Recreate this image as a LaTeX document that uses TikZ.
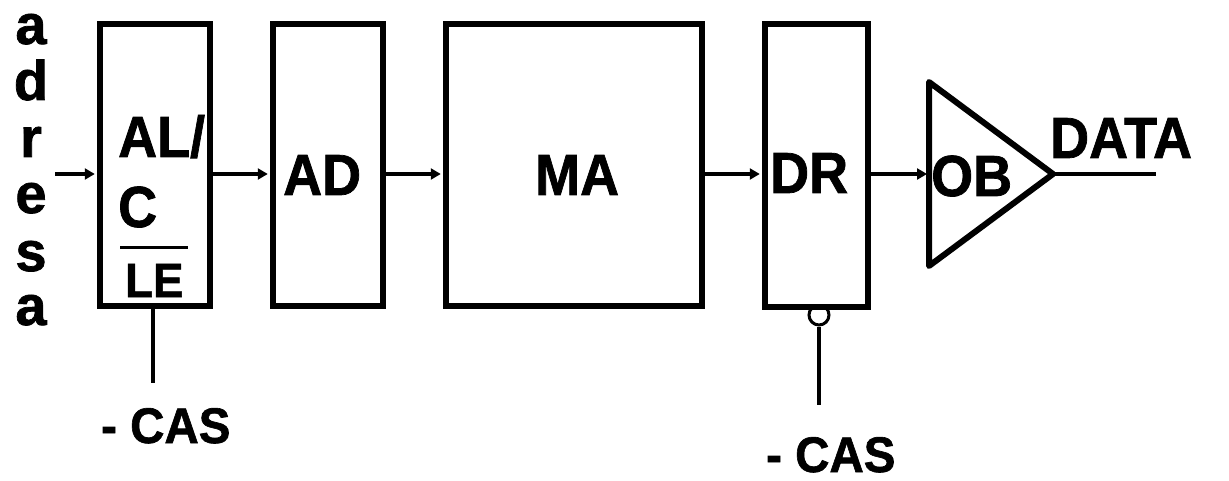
\documentclass[tikz,border=0pt]{standalone}
\usepackage{fontspec}
\setmainfont{Liberation Sans}[BoldFont=Liberation Sans Bold]
\newfontfamily\arialb{Liberation Sans Bold}[FakeBold=1.3]
\usetikzlibrary{arrows.meta}
\begin{document}
\begin{tikzpicture}[x=1pt,y=-1pt,
  box/.style={draw, line width=6.5pt, minimum height=282pt, inner sep=0pt},
  lbl/.style={font=\arialb\fontsize{58}{60}\selectfont, inner sep=0pt, anchor=base west, xscale=0.93},
  small/.style={font=\arialb\fontsize{50}{52}\selectfont, inner sep=0pt, anchor=base west, xscale=0.95},
  vert/.style={font=\arialb\fontsize{56}{58}\selectfont, inner sep=0pt, anchor=base},
  wire/.style={line width=4pt},
  arr/.style={line width=3.5pt, -{Triangle[length=10pt,width=11pt]}, shorten >=2pt}]
\useasboundingbox (0,0) rectangle (1229,481);
% inverting bubble (drawn first so the box border lies over its top)
\node[circle, draw, line width=3pt, minimum size=20pt, inner sep=0pt] (bub) at (819,315) {};
% boxes
\node[box, minimum width=110pt] (alc) at (155,165) {};
\node[box, minimum width=110pt] (ad) at (328,165) {};
\node[box, minimum width=256pt] (ma) at (574,165) {};
\node[box, minimum width=103pt, minimum height=283pt, fill=white] (dr) at (816.5,165.5) {};
% output buffer triangle
\coordinate (obA) at (929,82);
\coordinate (obB) at (1053,174);
\coordinate (obC) at (929,266);
\coordinate (obin) at (929,174);
\draw[line width=6pt, line join=round] (obA) -- (obB) -- (obC) -- cycle;
% labels
\node[lbl] (tAL) at (118,157) {AL/};
\node[lbl] (tC) at (118,227) {C};
\node[small, font=\arialb\fontsize{48}{50}\selectfont] (tLE) at (125,297) {LE};
\coordinate (olA) at (120,248);
\coordinate (olB) at (188,248);
\draw[line width=3pt] (olA) -- (olB);
\node[lbl] (tAD) at (283,195) {AD};
\node[lbl] (tMA) at (535,195) {MA};
\node[lbl] (tDR) at (770,193) {DR};
\node[lbl] (tOB) at (931,196) {OB};
\node[lbl] (tDATA) at (1050,158) {DATA};
\node[small] (cas1) at (101,443) {- CAS};
\node[small] (cas2) at (766,472) {- CAS};
% vertical "adresa"
\node[vert] (v1) at (31,44) {a};
\node[vert] (v2) at (31,100) {d};
\node[vert] (v3) at (31,157) {r};
\node[vert] (v4) at (31,213) {e};
\node[vert] (v5) at (31,271) {s};
\node[vert] (v6) at (31,325) {a};
% connectors
\coordinate (in) at (55,174);
\draw[arr] (in) -- (in -| alc.west);
\draw[arr] ([yshift=-9pt]alc.east) -- ([yshift=-9pt]ad.west);
\draw[arr] ([yshift=-9pt]ad.east) -- ([yshift=-9pt]ma.west);
\draw[arr] ([yshift=-9pt]ma.east) -- ([yshift=-8.5pt]dr.west);
\draw[arr] ([yshift=-8.5pt]dr.east) -- (obin);
\coordinate (dataend) at (1156,174);
\draw[wire] (obB) -- (dataend);
% CAS lines
\coordinate (alccas) at (153,383);
\draw[wire] (alc.south -| alccas) -- (alccas);
\coordinate (drcas) at (819,405);
\draw[wire] (bub.south) -- (drcas);
\end{tikzpicture}
\end{document}
